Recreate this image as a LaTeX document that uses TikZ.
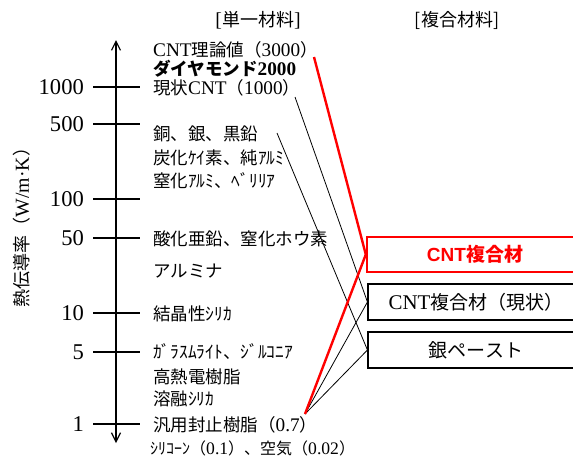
\documentclass[tikz,border=0pt]{standalone}
\usepackage{fontspec}
\setmainfont{Liberation Serif}[Scale=1.1]
\newfontfamily\jp{Noto Sans CJK JP}
\newfontfamily\arl{Liberation Sans}
\usetikzlibrary{arrows.meta}
\definecolor{pred}{RGB}{255,0,0}
\begin{document}
\begin{tikzpicture}[x=1pt,y=-1pt,
  lbl/.style={anchor=west,inner sep=0pt,font=\fontsize{17.5}{20}\selectfont},
  small/.style={anchor=west,inner sep=0pt,font=\fontsize{16}{18}\selectfont},
  tlab/.style={anchor=east,inner sep=0pt,font=\fontsize{20.5}{22}\selectfont},
  head/.style={inner sep=0pt,font=\fontsize{18}{20}\selectfont},
  tickln/.style={line width=1.8pt},
  box/.style={draw=black,line width=1.1pt,minimum width=216pt,minimum height=36pt,inner sep=0pt,font=\fontsize{19}{21}\selectfont},
  redbox/.style={draw=pred,line width=2.4pt,minimum width=216pt,minimum height=35pt,inner sep=0pt,text=pred,font=\fontsize{19}{21}\selectfont\bfseries},
  conn/.style={line width=0.8pt},
  redconn/.style={draw=pred,line width=2.4pt}]
\useasboundingbox (0,0) rectangle (573,459);
% headers
\node[head] (h1) at (258,20) {[{\jp 単一材料}]};
\node[head] (h2) at (457,20) {{\jp [複合材料]}};
% y axis label
\node[rotate=90,inner sep=0pt,font=\fontsize{18}{20}\selectfont] (ylab) at (22,223) {{\jp 熱伝導率（}W/m·K{\jp ）}};
% axis
\draw[line width=1.2pt,{Straight Barb[length=9pt,width=9pt]}-{Straight Barb[length=9pt,width=9pt]}] (116,443) -- (116,40);
% ticks
\foreach \v/\y in {1000/87,500/124,100/199,50/238,10/313,5/352,1/424}{
  \draw[tickln] (93,\y) -- (140,\y);
  \node[tlab] at (84,\y) {\v};
}
% material labels
\node[lbl] (m1) at (153,50) {CNT{\jp 理論値（}3000{\jp ）}};
\node[lbl] (m2) at (153,69) {{\jp\bfseries ダイヤモンド}\textbf{2000}};
\node[lbl] (m3) at (153,88) {{\jp 現状}CNT{\jp （}1000{\jp ）}};
\node[lbl] (m4) at (153,134) {{\jp 銅、銀、黒鉛}};
\node[lbl] (m5) at (153,158) {{\jp 炭化ｹｲ素、純ｱﾙﾐ}};
\node[lbl] (m6) at (153,181) {{\jp 窒化ｱﾙﾐ、ﾍﾞﾘﾘｱ}};
\node[lbl] (m7) at (153,239) {{\jp 酸化亜鉛、窒化ホウ素}};
\node[lbl] (m8) at (153,271) {{\jp アルミナ}};
\node[lbl] (m9) at (153,314) {{\jp 結晶性ｼﾘｶ}};
\node[lbl] (m10) at (153,352) {{\jp ｶﾞﾗｽﾑﾗｲﾄ、ｼﾞﾙｺﾆｱ}};
\node[lbl] (m11) at (153,377) {{\jp 高熱電樹脂}};
\node[lbl] (m12) at (153,399) {{\jp 溶融ｼﾘｶ}};
\node[lbl] (m13) at (153,425) {{\jp 汎用封止樹脂（}0.7{\jp ）}};
\node[small] (m14) at (150,448) {{\jp ｼﾘｺｰﾝ（}0.1{\jp ）、空気（}0.02{\jp ）}};
% composite boxes
\node[redbox] (b1) at (475,254.5) {{\arl CNT}{\jp 複合材}};
\node[box] (b2) at (476,302) {CNT{\jp 複合材（現状）}};
\node[box] (b3) at (476,350) {{\jp 銀ペースト}};
% connector end points
\coordinate (pT) at (314,57);
\coordinate (pNow) at (295,97);
\coordinate (pCu) at (277,133);
\coordinate (pRes) at (305,414);
% connectors
\draw[conn] (pNow) -- (b2.west);
\draw[conn] (pCu) -- (b3.west);
\draw[conn] (pRes) -- (b2.west);
\draw[conn] (pRes) -- (b3.west);
\draw[redconn] (pT) -- (b1.west) -- (pRes);
\end{tikzpicture}
\end{document}
